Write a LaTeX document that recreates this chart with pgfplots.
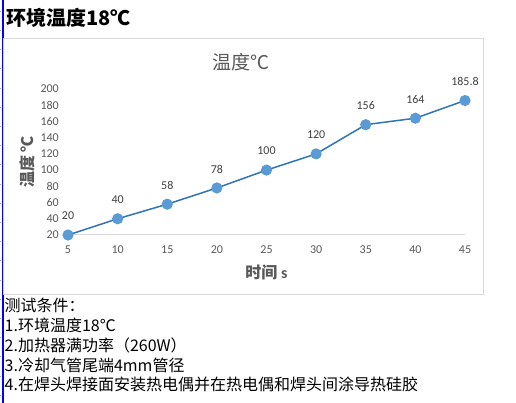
\documentclass[border=0pt]{standalone}
\usepackage{pgfplots}
\pgfplotsset{compat=1.18}
\usepackage{fontspec}
\setmainfont{Carlito}
\newfontfamily\cjk{Noto Sans CJK SC}
\definecolor{axgray}{HTML}{595959}
\definecolor{lblgray}{HTML}{404040}
\definecolor{bordergray}{HTML}{D9D9D9}
\definecolor{lineblue}{HTML}{2E75B6}
\definecolor{markblue}{HTML}{5B9BD5}
\begin{document}
\begin{tikzpicture}[x=1pt,y=1pt]
\path[use as bounding box, fill=white] (0,0) rectangle (516,403);
\draw[blue, line width=2pt] (2.5,0) -- (2.5,403);
\foreach \k in {0,...,20} {\draw[black!35, line width=0.8pt] (0,{403-(11.3+19.2*\k)}) -- (1.4,{403-(11.3+19.2*\k)});}
\node[anchor=west, inner sep=0pt, font=\cjk\bfseries\fontsize{20}{24}\selectfont] at (6,385) {环境温度18℃};
\draw[bordergray, line width=1pt] (3,364) rectangle (483,108);
\node[font=\cjk\fontsize{19}{23}\selectfont, text=axgray] at (241,341) {温度℃};
\begin{axis}[at={(68pt,168pt)}, anchor=south west, scale only axis,
  width=397pt, height=146pt,
  xmin=5, xmax=45, ymin=20, ymax=200,
  axis x line=bottom, axis y line=left,
  axis line style={-},
  x axis line style={bordergray, line width=1pt},
  y axis line style={draw=none},
  major tick length=0pt,
  xtick={5,10,...,45}, ytick={20,40,...,200},
  /pgf/number format/assume math mode=true,
  ticklabel style={font=\fontsize{12}{14}\selectfont, text=axgray},
  xticklabel style={anchor=north, inner sep=0pt, yshift=-11pt},
  yticklabel style={anchor=east, inner sep=0pt, xshift=-9pt},
  clip=false]
\addplot[lineblue, line width=1.5pt, mark=*, mark size=4.8pt,
  mark options={fill=markblue, draw=markblue},
  nodes near coords={\pgfmathprintnumber{\pgfplotspointmeta}},
  every node near coord/.append style={anchor=center, inner sep=0pt, yshift=19pt, font=\fontsize{12}{14}\selectfont, text=lblgray}]
  coordinates {(5,20) (10,40) (15,58) (20,78) (25,100) (30,120) (35,156) (40,164) (45,185.8)};
\end{axis}
\node[font=\cjk\bfseries\fontsize{16}{19}\selectfont, text=axgray] at (266.5,131) {时间 {\rmfamily\bfseries s}};
\node[rotate=90, font=\cjk\bfseries\fontsize{16}{19}\selectfont, text=axgray] at (27,241) {温度 ℃};
\begin{scope}[every node/.style={anchor=west, inner sep=0pt, font=\cjk\fontsize{16}{19}\selectfont}]
\node at (4.5,98) {测试条件：};
\node at (4.5,78) {1.环境温度18℃};
\node at (4.5,58) {2.加热器满功率（260W）};
\node at (4.5,38) {3.冷却气管尾端4mm管径};
\node at (4.5,18.4) {4.在焊头焊接面安装热电偶并在热电偶和焊头间涂导热硅胶};
\end{scope}
\end{tikzpicture}
\end{document}
